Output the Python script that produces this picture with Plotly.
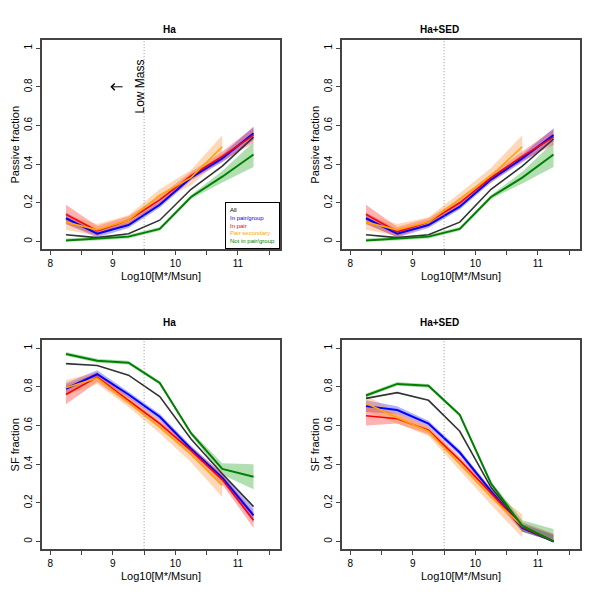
import plotly.graph_objects as go

# stellar mass bins (log10 M*/Msun)
mass = [8.25, 8.75, 9.25, 9.75, 10.25, 10.75, 11.25]
mass_sec = mass[:6]

# passive fraction, Ha
pa_all = [0.035, 0.02, 0.04, 0.11, 0.27, 0.39, 0.54]
pa_grp = [0.12, 0.04, 0.085, 0.19, 0.33, 0.43, 0.56]
pa_pair = [0.14, 0.055, 0.11, 0.215, 0.34, 0.44, 0.55]
pa_sec = [0.10, 0.06, 0.11, 0.24, 0.33, 0.49]
pa_iso = [0.005, 0.015, 0.025, 0.065, 0.23, 0.335, 0.45]

# passive fraction, Ha+SED
ps_all = [0.035, 0.02, 0.035, 0.10, 0.27, 0.39, 0.53]
ps_grp = [0.12, 0.04, 0.085, 0.18, 0.32, 0.43, 0.55]
ps_pair = [0.14, 0.05, 0.10, 0.20, 0.33, 0.44, 0.54]
ps_sec = [0.10, 0.06, 0.10, 0.22, 0.34, 0.49]
ps_iso = [0.005, 0.015, 0.025, 0.065, 0.23, 0.33, 0.45]

# SF fraction, Ha
sa_all = [0.92, 0.91, 0.86, 0.75, 0.53, 0.35, 0.18]
sa_grp = [0.79, 0.865, 0.76, 0.645, 0.48, 0.33, 0.135]
sa_pair = [0.76, 0.85, 0.73, 0.61, 0.47, 0.32, 0.11]
sa_sec = [0.795, 0.845, 0.72, 0.59, 0.45, 0.29]
sa_iso = [0.97, 0.935, 0.925, 0.82, 0.56, 0.375, 0.335]

# SF fraction, Ha+SED
ss_all = [0.74, 0.77, 0.73, 0.57, 0.28, 0.08, 0.0]
ss_grp = [0.70, 0.68, 0.61, 0.46, 0.26, 0.07, 0.0]
ss_pair = [0.65, 0.635, 0.575, 0.42, 0.25, 0.075, 0.0]
ss_sec = [0.715, 0.64, 0.57, 0.40, 0.23, 0.08]
ss_iso = [0.755, 0.815, 0.805, 0.655, 0.30, 0.08, 0.0]

# 1-sigma half-widths of the shaded bands
err_grp = [0.03, 0.02, 0.015, 0.015, 0.015, 0.02, 0.035]
err_pair = [0.05, 0.025, 0.02, 0.02, 0.02, 0.025, 0.04]
err_sec = [0.04, 0.03, 0.025, 0.03, 0.04, 0.06]
err_iso = [0.01, 0.01, 0.01, 0.01, 0.01, 0.03, 0.065]

cols = {"all": "#333333", "grp": "blue", "pair": "red", "sec": "orange", "iso": "green"}
fills = {"grp": "rgba(0,0,255,0.3)", "pair": "rgba(255,0,0,0.3)",
         "sec": "rgba(255,140,60,0.35)", "iso": "rgba(0,150,0,0.3)"}

panels = [
    ("Ha", "Passive fraction", [pa_all, pa_grp, pa_pair, pa_sec, pa_iso], 1),
    ("Ha+SED", "Passive fraction", [ps_all, ps_grp, ps_pair, ps_sec, ps_iso], 2),
    ("Ha", "SF fraction", [sa_all, sa_grp, sa_pair, sa_sec, sa_iso], 3),
    ("Ha+SED", "SF fraction", [ss_all, ss_grp, ss_pair, ss_sec, ss_iso], 4),
]
# page body margin shifts the figure by ~8px, compensate here
xdoms = [[0.057, 0.453], [0.557, 0.953]]
ydoms = [[0.598, 0.946], [0.098, 0.446]]

fig = go.Figure()
font = dict(family="Liberation Sans, Arial", size=10, color="black")

for title, ylab, series, k in panels:
    xa = "x" if k == 1 else f"x{k}"
    ya = "y" if k == 1 else f"y{k}"
    keys = ["all", "grp", "pair", "sec", "iso"]
    errs = {"grp": err_grp, "pair": err_pair, "sec": err_sec, "iso": err_iso}
    for key, vals in zip(keys, series):
        xs = mass_sec if key == "sec" else mass
        if key != "all":
            e = errs[key][:len(vals)]
            up = [v + d for v, d in zip(vals, e)]
            lo = [max(v - d, 0) for v, d in zip(vals, e)]
            fig.add_trace(go.Scatter(x=xs + xs[::-1], y=up + lo[::-1], fill="toself",
                                     fillcolor=fills[key], line=dict(width=0),
                                     mode="lines", showlegend=False, hoverinfo="skip",
                                     xaxis=xa, yaxis=ya))
    for key, vals in zip(keys, series):
        xs = mass_sec if key == "sec" else mass
        w = 2 if key in ("grp", "iso") else 1.6
        fig.add_trace(go.Scatter(x=xs, y=vals, mode="lines", line=dict(color=cols[key], width=w),
                                 showlegend=False, xaxis=xa, yaxis=ya))
    c = (k - 1) % 2
    r = (k - 1) // 2
    ax = dict(domain=xdoms[c], range=[7.87, 11.67], tickvals=[8, 9, 10, 11], ticks="outside",
              ticklen=4, showgrid=False, zeroline=False, showline=True, linecolor="#444",
              mirror=True, linewidth=1.5,
              title=dict(text="Log10[M*/Msun]", standoff=4,
                         font=dict(family="Liberation Sans, Arial", size=11)),
              minor=dict(dtick=0.5, tick0=8, ticks="outside", ticklen=4, showgrid=False),
              anchor=ya, tickfont=font)
    ay = dict(domain=ydoms[r], range=[-0.04, 1.04], tickvals=[0, 0.2, 0.4, 0.6, 0.8, 1],
              ticktext=["0", "0.2", "0.4", "0.6", "0.8", "1"], tickangle=-90,
              ticks="outside", ticklen=4, showgrid=False, zeroline=False, showline=True,
              linecolor="#444", mirror=True, linewidth=1.5,
              title=dict(text=ylab, standoff=2,
                         font=dict(family="Liberation Sans, Arial", size=11)),
              anchor=xa, tickfont=font)
    fig.layout[("xaxis" if k == 1 else f"xaxis{k}")] = ax
    fig.layout[("yaxis" if k == 1 else f"yaxis{k}")] = ay
    fig.add_shape(type="line", x0=9.5, x1=9.5, y0=-0.04, y1=1.04, xref=xa, yref=ya,
                  line=dict(color="#777", width=0.8, dash="1px,2px"))
    fig.add_annotation(text=f"<b>{title}</b>", x=sum(xdoms[c]) / 2, y=ydoms[r][1] + 0.03,
                       xref="paper", yref="paper", showarrow=False, font=font)

# low mass marker
fig.add_annotation(text="Low Mass", x=9.43, y=0.8, xref="x", yref="y", textangle=-90,
                   showarrow=False, font=dict(family="Liberation Sans, Arial", size=12))
fig.add_annotation(x=8.96, y=0.8, ax=9.18, ay=0.8, xref="x", yref="y", axref="x", ayref="y",
                   text="", showarrow=True, arrowhead=4, arrowsize=1.3, arrowwidth=1,
                   arrowcolor="black")

# legend box
fig.add_annotation(
    text="<span style='color:black'>All</span><br>"
         "<span style='color:blue'>In pair/group</span><br>"
         "<span style='color:red'>In pair</span><br>"
         "<span style='color:orange'>Pair secondary</span><br>"
         "<span style='color:green'>Not in pair/group</span>",
    x=11.67, y=-0.04, xref="x", yref="y", xanchor="right", yanchor="bottom",
    align="left", showarrow=False, bordercolor="black", borderwidth=1, bgcolor="white",
    borderpad=4, font=dict(family="Liberation Sans, Arial", size=6))

fig.update_layout(width=600, height=600, margin=dict(l=0, r=0, t=0, b=0),
                  plot_bgcolor="white", paper_bgcolor="white", font=font, showlegend=False)
fig.write_html("out.html")
